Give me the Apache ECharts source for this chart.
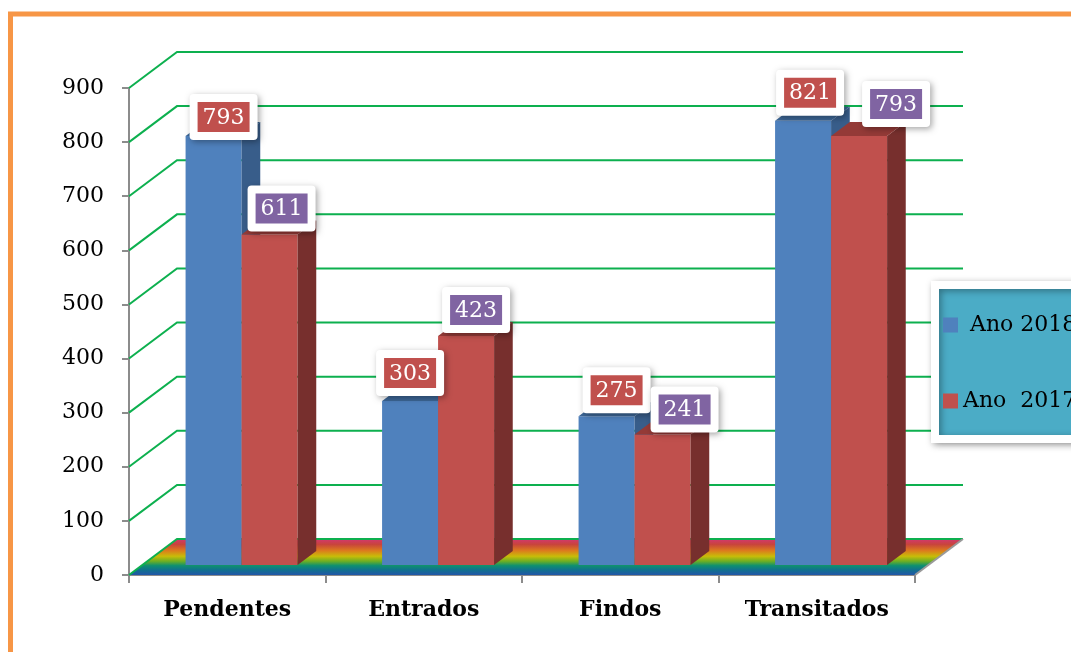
<!DOCTYPE html>
<html>
<head>
<meta charset="utf-8">
<title>Processos 2017 / 2018</title>
<script src="https://cdn.jsdelivr.net/npm/echarts@6/dist/echarts.min.js"></script>
<style>
  html, body { margin: 0; padding: 0; background: #fff; }
  #chart { width: 1071px; height: 652px; }
</style>
</head>
<body>
<div id="chart"></div>
<script>
// ---- data ----
const categories = ['Pendentes', 'Entrados', 'Findos', 'Transitados'];
const seriesNames = ['Ano 2018', 'Ano 2017'];
const legendText = [' Ano 2018', 'Ano  2017'];
const ano2018 = [793, 303, 275, 821];
const ano2017 = [611, 423, 241, 793];
const yMax = 900;
const yStep = 100;

// ---- 3D look ----
const DEPTH = [48, -36];          // full floor depth, in pixels
const BAR_FRONT = 10 / 36;        // bar front face, as a fraction of depth
const BAR_BACK = 24 / 36;         // bar back face
const BAR_W = 0.285;              // bar width, as a fraction of a category
const GREEN = '#0DB04F';
const faces = [
  { front: '#4F81BD', side: '#385D8A', top: '#3C6696', label: '#C0504D' },
  { front: '#C0504D', side: '#772F2D', top: '#943A37', label: '#8064A2' }
];
// small nudges that keep the value boxes apart
const labelNudge = [
  [[10, -19], [0, -28], [10, -26], [7, -28]],
  [[12, -26], [10, -26], [22, -25], [37, -32]]
];
const FONT = '"DejaVu Serif", serif';

const chart = echarts.init(document.getElementById('chart'), null, { renderer: 'canvas' });

function yTickValues() {
  const out = [];
  for (let v = 0; v <= yMax; v += yStep) out.push(v);
  return out;
}

// floor and back wall with its grid lines
function renderWalls(params, api) {
  const catW = api.size([1, 0])[0];
  const xL = api.coord([0, 0])[0] - catW / 2;
  const xR = api.coord([categories.length - 1, 0])[0] + catW / 2;
  const y0 = api.coord([0, 0])[1];
  const [dx, dy] = DEPTH;
  const children = [];
  children.push({
    type: 'polygon',
    shape: { points: [[xL, y0], [xR, y0], [xR + dx, y0 + dy], [xL + dx, y0 + dy]] },
    style: {
      fill: {
        type: 'linear', x: 0, y: 0, x2: 0, y2: 1,
        colorStops: [
          { offset: 0.0, color: '#D23870' },
          { offset: 0.15, color: '#C8443C' },
          { offset: 0.32, color: '#DC7A1E' },
          { offset: 0.48, color: '#C8BC08' },
          { offset: 0.62, color: '#6CAE24' },
          { offset: 0.74, color: '#0E9070' },
          { offset: 0.86, color: '#10708E' },
          { offset: 1.0, color: '#2256A8' }
        ]
      }
    }
  });
  yTickValues().forEach(function (v) {
    const y = api.coord([0, v])[1];
    children.push({
      type: 'polyline',
      shape: { points: [[xL, y], [xL + dx, y + dy], [xR + dx, y + dy]] },
      style: { stroke: GREEN, lineWidth: 2, fill: null }
    });
  });
  children.push({
    type: 'line',
    shape: { x1: xR, y1: y0, x2: xR + dx, y2: y0 + dy },
    style: { stroke: '#9A9A9A', lineWidth: 2 }
  });
  return { type: 'group', children: children };
}

function makeBarRenderer(s) {
  const f = faces[s];
  return function (params, api) {
    const i = params.dataIndex;
    const v = api.value(1);
    const catW = api.size([1, 0])[0];
    const barW = catW * BAR_W;
    const base = api.coord([i, 0]);
    const topPt = api.coord([i, v]);
    const fx = DEPTH[0] * BAR_FRONT, fy = DEPTH[1] * BAR_FRONT;
    const bx = DEPTH[0] * (BAR_BACK - BAR_FRONT), by = DEPTH[1] * (BAR_BACK - BAR_FRONT);
    const xl = base[0] + fx + 1 - barW + s * barW;
    const xr = xl + barW;
    const yb = base[1] + fy;
    const yt = topPt[1] + fy;
    const nudge = labelNudge[s][i];
    const cx = (xl + xr) / 2 + nudge[0];
    const cy = yt + nudge[1];
    const text = String(v);
    const innerW = 52, innerH = 30, pad = 8;
    return {
      type: 'group',
      children: [
        { type: 'rect', shape: { x: xl, y: yt, width: barW, height: yb - yt }, style: { fill: f.front } },
        { type: 'polygon', shape: { points: [[xr, yb], [xr + bx, yb + by], [xr + bx, yt + by], [xr, yt]] }, style: { fill: f.side } },
        { type: 'polygon', shape: { points: [[xl, yt], [xr, yt], [xr + bx, yt + by], [xl + bx, yt + by]] }, style: { fill: f.top } },
        {
          type: 'rect', z2: 100,
          shape: { x: cx - innerW / 2 - pad, y: cy - innerH / 2 - pad, width: innerW + 2 * pad, height: innerH + 2 * pad, r: 4 },
          style: { fill: '#fff', shadowBlur: 6, shadowColor: 'rgba(0,0,0,0.35)', shadowOffsetX: 2, shadowOffsetY: 2 }
        },
        {
          type: 'rect', z2: 101,
          shape: { x: cx - innerW / 2, y: cy - innerH / 2, width: innerW, height: innerH },
          style: { fill: f.label }
        },
        {
          type: 'text', z2: 102,
          style: { text: text, x: cx, y: cy + 1, fill: '#fff', font: '22px ' + FONT, align: 'center', verticalAlign: 'middle' }
        }
      ]
    };
  };
}

function toPairs(values) {
  return values.map(function (v, i) { return [i, v]; });
}

const option = {
  animation: false,
  backgroundColor: '#fff',
  graphic: [{
    type: 'rect',
    shape: { x: 10.5, y: 14, width: 1200, height: 800 },
    style: { fill: null, stroke: '#F79646', lineWidth: 5 },
    silent: true
  }],
  grid: { left: 129, right: 156, top: 88, bottom: 77 },
  legend: {
    data: seriesNames,
    orient: 'vertical',
    left: 935,
    top: 285,
    padding: [28, 40, 26, 8],
    itemGap: 52,
    itemWidth: 15,
    itemHeight: 15,
    icon: 'rect',
    backgroundColor: '#4BACC6',
    borderColor: '#fff',
    borderWidth: 8,
    shadowBlur: 7,
    shadowColor: 'rgba(0,0,0,0.35)',
    shadowOffsetX: 2,
    shadowOffsetY: 2,
    formatter: function (name) { return legendText[seriesNames.indexOf(name)]; },
    textStyle: { fontFamily: FONT, fontSize: 22, color: '#000', lineHeight: 24 }
  },
  xAxis: {
    type: 'category',
    data: categories,
    axisLine: { lineStyle: { color: '#8C8C8C', width: 2 } },
    axisTick: { show: true, length: 8, interval: 0, lineStyle: { color: '#8C8C8C', width: 2 } },
    axisLabel: { fontFamily: FONT, fontSize: 22, fontWeight: 'bold', color: '#000', margin: 24, interval: 0 },
    splitLine: { show: false }
  },
  yAxis: {
    type: 'value',
    min: 0,
    max: yMax,
    interval: yStep,
    axisLine: { show: true, lineStyle: { color: '#8C8C8C', width: 2 } },
    axisTick: { show: true, length: 7, lineStyle: { color: '#8C8C8C', width: 2 } },
    axisLabel: { fontFamily: FONT, fontSize: 22, color: '#000', margin: 25 },
    splitLine: { show: false }
  },
  series: [
    {
      name: 'parede',
      type: 'custom',
      z: 1,
      silent: true,
      renderItem: renderWalls,
      data: [[0, 0]]
    },
    {
      name: seriesNames[0],
      type: 'custom',
      z: 2,
      itemStyle: { color: faces[0].front },
      renderItem: makeBarRenderer(0),
      data: toPairs(ano2018)
    },
    {
      name: seriesNames[1],
      type: 'custom',
      z: 2,
      itemStyle: { color: faces[1].front },
      renderItem: makeBarRenderer(1),
      data: toPairs(ano2017)
    }
  ]
};

chart.setOption(option);
</script>
</body>
</html>
